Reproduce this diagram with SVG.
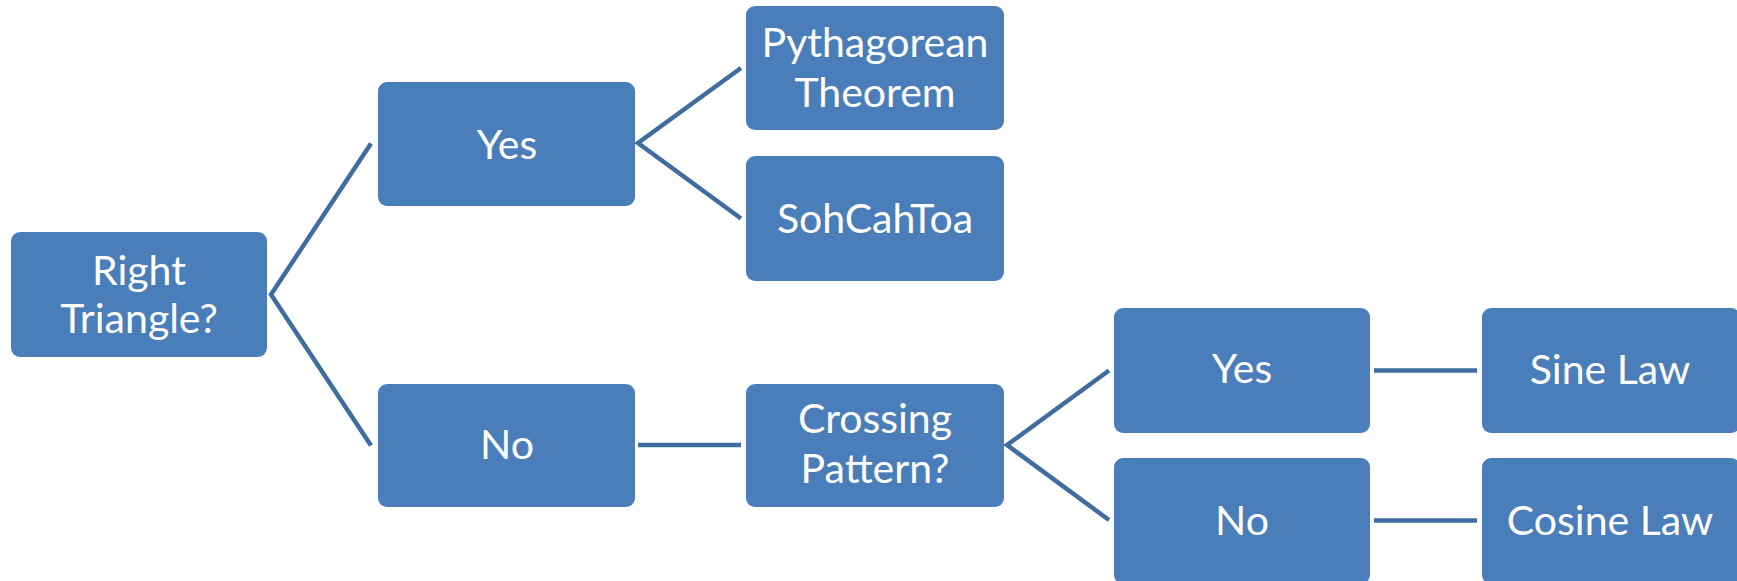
<svg xmlns="http://www.w3.org/2000/svg" width="1737" height="581" viewBox="0 0 1737 581">
<style>
.box{fill:#4A7EBB;}
.t{fill:#ffffff;font-family:Lato,"Open Sans",sans-serif;font-size:41px;text-anchor:middle;}
.c{stroke:#3F6D9F;stroke-width:4.5;fill:none;}
</style>
<rect width="1737" height="581" fill="#ffffff"/>
<g id="connectors">
<polyline class="c" points="371,143.5 271,294.5 371,445.5"/>
<polyline class="c" points="741,68 638,143 741,218.5"/>
<line class="c" x1="638" y1="445" x2="741" y2="445"/>
<polyline class="c" points="1109,370.5 1007,445 1109,520"/>
<line class="c" x1="1374" y1="370.5" x2="1477" y2="370.5"/>
<line class="c" x1="1374" y1="520.5" x2="1477" y2="520.5"/>
</g>
<g id="n-right"><rect class="box" x="11" y="232" width="256" height="125" rx="9"/><text class="t" x="139" y="285">Right</text><text class="t" x="139" y="333">Triangle?</text></g>
<g id="n-yes1"><rect class="box" x="378" y="82" width="257" height="124" rx="9"/><text class="t" x="507" y="159">Yes</text></g>
<g id="n-no1"><rect class="box" x="378" y="384" width="257" height="123" rx="9"/><text class="t" x="507" y="459">No</text></g>
<g id="n-pyth"><rect class="box" x="746" y="6" width="258" height="124" rx="9"/><text class="t" x="875" y="57">Pythagorean</text><text class="t" x="875" y="107">Theorem</text></g>
<g id="n-soh"><rect class="box" x="746" y="156" width="258" height="125" rx="9"/><text class="t" x="875" y="233">SohCahToa</text></g>
<g id="n-cross"><rect class="box" x="746" y="384" width="258" height="123" rx="9"/><text class="t" x="875" y="433">Crossing</text><text class="t" x="875" y="483">Pattern?</text></g>
<g id="n-yes2"><rect class="box" x="1114" y="308" width="256" height="125" rx="9"/><text class="t" x="1242" y="383">Yes</text></g>
<g id="n-no2"><rect class="box" x="1114" y="458" width="256" height="126" rx="9"/><text class="t" x="1242" y="535">No</text></g>
<g id="n-sine"><rect class="box" x="1482" y="308" width="258" height="125" rx="9"/><text class="t" x="1610" y="384">Sine Law</text></g>
<g id="n-cosine"><rect class="box" x="1482" y="458" width="258" height="126" rx="9"/><text class="t" x="1610" y="535">Cosine Law</text></g>
</svg>
